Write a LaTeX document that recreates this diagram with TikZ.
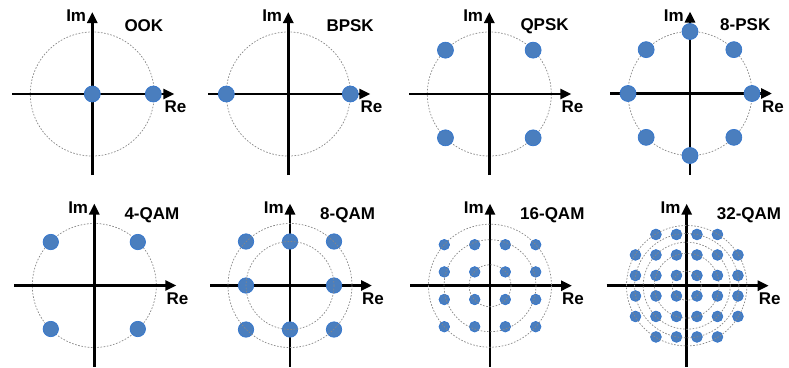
\documentclass[tikz,border=0pt]{standalone}
\usepackage{fontspec}
\setmainfont{Liberation Sans}
\usetikzlibrary{arrows.meta}
\definecolor{dotfill}{RGB}{74,126,190}
\definecolor{dotedge}{RGB}{52,118,205}
\definecolor{ringgray}{RGB}{135,135,135}
\tikzset{
  axisline/.style={line width=2.9pt, -{Triangle[length=11pt,width=10pt]}},
  ring/.style={ringgray, line width=0.7pt, dash pattern=on 1.6pt off 1.6pt},
  sym/.style={fill=dotfill, draw=dotedge, line width=0.7pt},
  lbl/.style={font=\fontsize{17}{20}\selectfont\bfseries, inner sep=0pt},
}
% complex-plane axes with Im / Re labels, centred on the current scope origin
\newcommand{\iqaxes}[1]{%
  \draw[axisline] (-80,0) -- (82,0);
  \draw[axisline] (0,81) -- (0,-82);
  \node[lbl, anchor=base east] (#1im) at (-6,-72.3) {Im};
  \node[lbl, anchor=base west] (#1re) at (72,18.8) {Re};
}
\begin{document}
\begin{tikzpicture}[x=1pt,y=-1pt]
\useasboundingbox (0,0) rectangle (789,367);

% ---------- OOK ----------
\begin{scope}[shift={(92.3,94)}]
  \draw[ring] (0,0) circle (62);
  \iqaxes{ook}
  \node[lbl, anchor=base west] (ooktitle) at (32,-63) {OOK};
  \fill[sym] (0,0) circle (8) (61,0) circle (8);
\end{scope}

% ---------- BPSK ----------
\begin{scope}[shift={(288.3,94)}]
  \draw[ring] (0,0) circle (62);
  \iqaxes{bpsk}
  \node[lbl, anchor=base west] (bpsktitle) at (38,-63) {BPSK};
  \fill[sym] (-62,0) circle (8) (62,0) circle (8);
\end{scope}

% ---------- QPSK ----------
\begin{scope}[shift={(489.3,94)}]
  \draw[ring] (0,0) circle (62);
  \iqaxes{qpsk}
  \node[lbl, anchor=base west] (qpsktitle) at (31,-63.5) {QPSK};
  \foreach \a in {45,135,225,315}
    \fill[sym] (\a:62) circle (8);
\end{scope}

% ---------- 8-PSK ----------
\begin{scope}[shift={(690,93.5)}]
  \draw[ring] (0,0) circle (62);
  \iqaxes{epsk}
  \node[lbl, anchor=base west] (epsktitle) at (30,-63) {8-PSK};
  \foreach \a in {0,45,...,315}
    \fill[sym] (\a:62) circle (8);
\end{scope}

% ---------- 4-QAM ----------
\begin{scope}[shift={(94.3,285.5)}]
  \draw[ring] (0,0) circle (62);
  \iqaxes{fqam}
  \node[lbl, anchor=base west] (fqamtitle) at (30,-66.5) {4-QAM};
  \foreach \x in {-43.5,43.5}
    \foreach \y in {-43.5,43.5}
      \fill[sym] (\x,\y) circle (7.7);
\end{scope}

% ---------- 8-QAM ----------
\begin{scope}[shift={(290,285.5)}]
  \iqaxes{eqam}
  \node[lbl, anchor=base west] (eqamtitle) at (30,-66.5) {8-QAM};
  \foreach \p in {(-44,-44),(0,-44),(44,-44),(-44,0),(44,0),(-44,44),(0,44),(44,44)}
    \fill[sym] \p circle (7.7);
  \draw[ring] (0,0) circle (62) (0,0) circle (44);
\end{scope}

% ---------- 16-QAM ----------
\begin{scope}[shift={(490,285.7)}]
  \iqaxes{sqam}
  \node[lbl, anchor=base west] (sqamtitle) at (30,-66.5) {16-QAM};
  \foreach \x in {-45.7,-15.3,15.3,45.7}
    \foreach \y in {-41,-13.8,13.8,41}
      \fill[sym] (\x,\y) circle (5.3);
  \draw[ring] (0,0) circle (21) (0,0) circle (46) (0,0) circle (61.5);
\end{scope}

% ---------- 32-QAM ----------
\begin{scope}[shift={(686.7,285.7)}]
  \iqaxes{tqam}
  \node[lbl, anchor=base west] (tqamtitle) at (30,-66.5) {32-QAM};
  \foreach \j in {-1.5,-0.5,0.5,1.5}
    \foreach \i in {-2.5,-1.5,-0.5,0.5,1.5,2.5}
      \fill[sym] ({\i*20.5},{\j*20.5}) circle (5.4);
  \foreach \j in {-2.5,2.5}
    \foreach \i in {-1.5,-0.5,0.5,1.5}
      \fill[sym] ({\i*20.5},{\j*20.5}) circle (5.4);
  \draw[ring] (0,0) circle (14.5) (0,0) circle (32.4) (0,0) circle (43.5)
              (0,0) circle (52.2) (0,0) circle (60.2);
\end{scope}
\end{tikzpicture}
\end{document}
